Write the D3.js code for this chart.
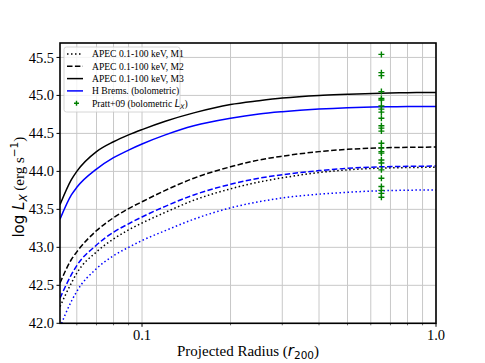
<!DOCTYPE html>
<meta charset="utf-8">
<script src="https://cdn.jsdelivr.net/npm/d3@7"></script>
<style>
body { margin: 0; background: #fff; }
text { font-family: "Liberation Serif", serif; fill: #000; }
.grid line { stroke: #c8c8c8; stroke-width: 1; }
.curve { fill: none; stroke-width: 1.5px; }
</style>
<body>
<script>

// projected radius in units of r200
var radius = [0.0526, 0.0575, 0.06, 0.07, 0.08, 0.09, 0.1, 0.12, 0.15, 0.2, 0.25, 0.3, 0.4, 0.5, 0.65, 0.8, 1.0];

// cumulative log Lx for each model
var apecM1  = [42.22, 42.53, 42.66, 42.94, 43.11, 43.23, 43.32, 43.46, 43.62, 43.77, 43.86, 43.915, 43.985, 44.02, 44.043, 44.05, 44.055];
var apecM2  = [42.53, 42.84, 42.94, 43.22, 43.39, 43.51, 43.60, 43.75, 43.91, 44.06, 44.15, 44.20, 44.26, 44.29, 44.31, 44.316, 44.32];
var apecM3  = [43.56, 43.89, 44.00, 44.26, 44.39, 44.48, 44.55, 44.66, 44.77, 44.88, 44.93, 44.965, 45.00, 45.015, 45.03, 45.036, 45.04];
var bremsM1 = [41.95, 42.29, 42.42, 42.72, 42.89, 43.00, 43.09, 43.22, 43.37, 43.52, 43.60, 43.65, 43.70, 43.725, 43.745, 43.752, 43.755];
var bremsM2 = [42.33, 42.64, 42.76, 43.03, 43.20, 43.31, 43.40, 43.54, 43.69, 43.83, 43.91, 43.955, 44.01, 44.04, 44.06, 44.066, 44.07];
var bremsM3 = [43.37, 43.69, 43.79, 44.03, 44.18, 44.28, 44.36, 44.48, 44.60, 44.70, 44.755, 44.785, 44.82, 44.838, 44.85, 44.853, 44.855];

// Pratt+09 bolometric Lx, all plotted at r500 ~ 0.652 r200
var prattR = 0.652;
var prattLx = [45.54, 45.30, 45.26, 45.05, 44.96, 44.94, 44.86, 44.82, 44.78, 44.70, 44.60, 44.57,
               44.53, 44.37, 44.31, 44.26, 44.24, 44.15, 44.11, 44.02, 43.91, 43.80, 43.75, 43.71, 43.66];

var yTicks = [42.0, 42.5, 43.0, 43.5, 44.0, 44.5, 45.0, 45.5];
var xMajor = [0.1, 1.0];
var xMinor = [0.06, 0.07, 0.08, 0.09, 0.2, 0.3, 0.4, 0.5, 0.6, 0.7, 0.8, 0.9];

var width = 485, height = 363;
var pL = 60, pR = 436, pT = 43, pB = 323.3;

var x = d3.scaleLog().domain([0.0526, 1]).range([pL, pR]);
var y = d3.scaleLinear().domain([42, 45.69]).range([pB, pT]);

var svg = d3.select("body").append("svg")
    .attr("width", width)
    .attr("height", height);

svg.append("clipPath").attr("id", "plot")
  .append("rect")
    .attr("x", pL).attr("y", pT)
    .attr("width", pR - pL).attr("height", pB - pT);

// grid
var grid = svg.append("g").attr("class", "grid");
grid.selectAll(".gx")
    .data(xMajor.concat(xMinor))
    .enter().append("line")
    .attr("x1", function(d) { return x(d); })
    .attr("x2", function(d) { return x(d); })
    .attr("y1", pT).attr("y2", pB);
grid.selectAll(".gy")
    .data(yTicks)
    .enter().append("line")
    .attr("x1", pL).attr("x2", pR)
    .attr("y1", function(d) { return y(d); })
    .attr("y2", function(d) { return y(d); });

// curves
var series = [
  {v: apecM1,  color: "black", dash: "1.5,2.5"},
  {v: apecM2,  color: "black", dash: "5.5,2.4"},
  {v: apecM3,  color: "black", dash: null},
  {v: bremsM1, color: "blue",  dash: "1.5,2.5"},
  {v: bremsM2, color: "blue",  dash: "5.5,2.4"},
  {v: bremsM3, color: "blue",  dash: null}
];

var line = d3.line()
    .x(function(d) { return x(d[0]); })
    .y(function(d) { return y(d[1]); })
    .curve(d3.curveMonotoneX);

svg.append("g")
    .attr("clip-path", "url(#plot)")
  .selectAll("path")
    .data(series)
    .enter().append("path")
    .attr("class", "curve")
    .attr("stroke", function(d) { return d.color; })
    .attr("stroke-dasharray", function(d) { return d.dash; })
    .attr("d", function(d) { return line(d3.zip(radius, d.v)); });

// Pratt points
function plus(sel, s) {
  sel.append("path")
    .attr("d", "M" + (-s) + ",0H" + s + "M0," + (-s) + "V" + s)
    .attr("stroke", "green")
    .attr("stroke-width", 1.4);
}
svg.append("g")
  .selectAll("g")
    .data(prattLx)
    .enter().append("g")
    .attr("transform", function(d) { return "translate(" + x(prattR) + "," + y(d) + ")"; })
    .call(plus, 3);

// frame
svg.append("rect")
    .attr("x", pL).attr("y", pT)
    .attr("width", pR - pL).attr("height", pB - pT)
    .attr("fill", "none").attr("stroke", "#000").attr("stroke-width", 1.6);

// y ticks
var yt = svg.append("g").selectAll("g")
    .data(yTicks).enter().append("g")
    .attr("transform", function(d) { return "translate(0," + y(d) + ")"; });
yt.append("line").attr("x1", pL - 3.5).attr("x2", pL).attr("stroke", "#000");
yt.append("text")
    .attr("x", pL - 6).attr("dy", "0.35em")
    .attr("text-anchor", "end")
    .style("font-size", "14.5px")
    .text(function(d) { return d.toFixed(1); });

// x ticks
var xt = svg.append("g").selectAll("g")
    .data(xMajor).enter().append("g")
    .attr("transform", function(d) { return "translate(" + x(d) + "," + pB + ")"; });
xt.append("line").attr("y1", 0).attr("y2", 3.5).attr("stroke", "#000");
xt.append("text")
    .attr("y", 17)
    .attr("text-anchor", "middle")
    .style("font-size", "14.5px")
    .text(function(d) { return d.toFixed(1); });
svg.append("g").selectAll("line")
    .data(xMinor).enter().append("line")
    .attr("x1", function(d) { return x(d); })
    .attr("x2", function(d) { return x(d); })
    .attr("y1", pB).attr("y2", pB + 2)
    .attr("stroke", "#000").attr("stroke-width", 0.6);

// axis labels
var xl = svg.append("text")
    .attr("x", (pL + pR) / 2).attr("y", 356)
    .attr("text-anchor", "middle")
    .style("font-size", "15px");
xl.append("tspan").text("Projected Radius (");
xl.append("tspan").style("font-family", "DejaVu Sans").style("font-style", "italic").text("r");
xl.append("tspan").style("font-family", "DejaVu Sans").style("font-size", "10.5px").attr("dy", 3).text("200");
xl.append("tspan").attr("dy", -3).text(")");

var yl = svg.append("text")
    .attr("transform", "translate(24," + ((pT + pB) / 2 + 4) + ") rotate(-90)")
    .attr("text-anchor", "middle")
    .style("font-size", "15px");
yl.append("tspan").style("font-family", "DejaVu Sans").text("log ");
yl.append("tspan").style("font-family", "DejaVu Sans").style("font-style", "italic").text("L");
yl.append("tspan").style("font-family", "DejaVu Sans").style("font-style", "italic").style("font-size", "10.5px").attr("dy", 3).text("X");
yl.append("tspan").attr("dy", -3).text(" (erg s");
yl.append("tspan").style("font-family", "DejaVu Sans").style("font-size", "10.5px").attr("dy", -6).text("\u22121");
yl.append("tspan").attr("dy", 6).text(")");

// legend
var legendItems = [
  {label: "APEC 0.1-100 keV, M1", color: "black", dash: "1.5,2.5"},
  {label: "APEC 0.1-100 keV, M2", color: "black", dash: "5.5,2.4"},
  {label: "APEC 0.1-100 keV, M3", color: "black", dash: null},
  {label: "H Brems. (bolometric)", color: "blue", dash: null},
  {label: "Pratt+09 (bolometric ", color: "green", marker: true}
];

var lg = svg.append("g").attr("transform", "translate(64,47)");
lg.append("rect")
    .attr("width", 116).attr("height", 65).attr("rx", 2.5)
    .attr("fill", "#fff").attr("fill-opacity", 0.8)
    .attr("stroke", "#ccc").attr("stroke-width", 0.8);

var row = lg.selectAll(".row")
    .data(legendItems).enter().append("g")
    .attr("transform", function(d, i) { return "translate(0," + (7 + i * 12.3) + ")"; });
row.filter(function(d) { return !d.marker; })
  .append("line")
    .attr("x1", 3).attr("x2", 19)
    .attr("stroke", function(d) { return d.color; })
    .attr("stroke-width", 1.5)
    .attr("stroke-dasharray", function(d) { return d.dash; });
row.filter(function(d) { return d.marker; })
  .append("g").attr("transform", "translate(12.5,0)")
  .call(plus, 2.5);
var lt = row.append("text")
    .attr("x", 28).attr("dy", "0.35em")
    .style("font-size", "9.6px")
    .text(function(d) { return d.label; });
lt.filter(function(d) { return d.marker; })
  .each(function() {
    var t = d3.select(this);
    t.append("tspan").style("font-family", "DejaVu Sans").style("font-style", "italic").text("L");
    t.append("tspan").style("font-family", "DejaVu Sans").style("font-style", "italic")
      .style("font-size", "6.6px").attr("dy", 2).text("X");
    t.append("tspan").attr("dy", -2).text(")");
  });

</script>
</body>
